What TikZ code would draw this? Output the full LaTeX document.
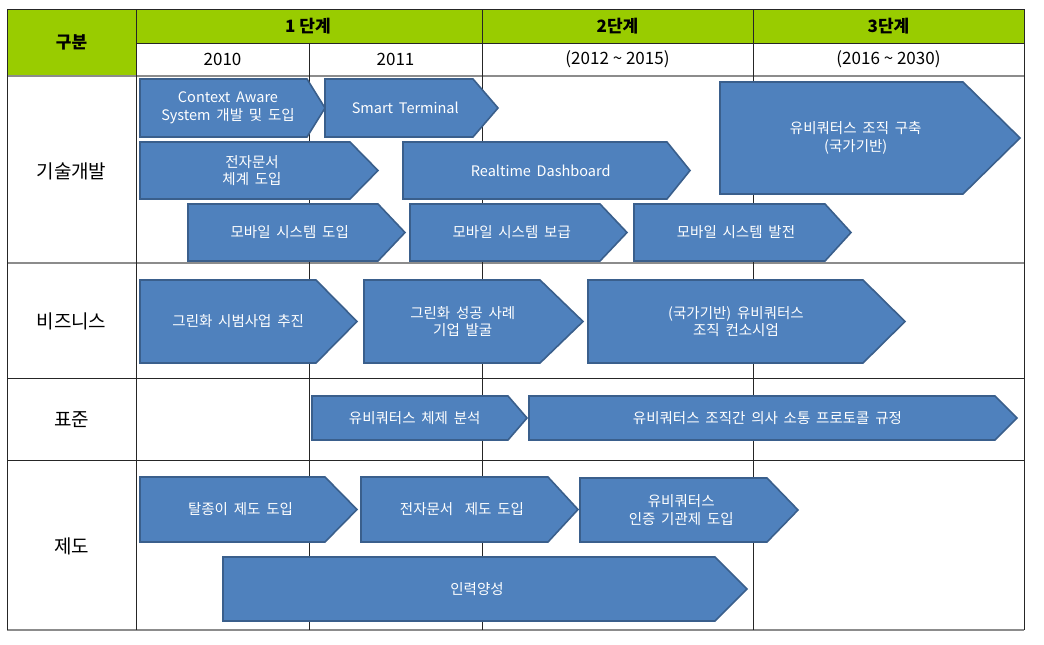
\documentclass[tikz,border=0pt]{standalone}
\usepackage{fontspec}
\setmainfont{Noto Sans CJK KR}
\usetikzlibrary{positioning}
\definecolor{barblue}{HTML}{4F81BD}
\definecolor{barline}{HTML}{3A5F8C}
\definecolor{headgreen}{HTML}{99CC00}
\definecolor{gridgray}{HTML}{8C8C8C}
\newcommand{\barfont}{\fontsize{14.5}{17.5}\selectfont\spaceskip 0.4em\relax}
\tikzset{
  bar/.style={fill=barblue, draw=barline, line width=1.6pt, line join=miter},
  bartext/.style={text=white, font=\barfont, align=center, inner sep=0pt},
  rowlabel/.style={font=\fontsize{19}{20}\selectfont},
  headlabel/.style={font=\fontsize{17}{18}\selectfont\bfseries},
  yearlabel/.style={font=\fontsize{17}{18}\selectfont},
  grid/.style={draw=black!85, line width=0.8pt},
  gridsoft/.style={draw=gridgray, line width=1.6pt}
}
\newcommand{\stagebar}[7]{%
  \draw[bar] (#2,#5) -- (#3,#5) -- (#4,{(#5+#6)/2}) -- (#3,#6) -- (#2,#6) -- cycle;
  \node[bartext] (#1) at ({(#2+(#3+#4)/2)/2},{(#5+#6)/2}) {#7};
}

\begin{document}
\begin{tikzpicture}[x=1pt,y=-1pt]
  \useasboundingbox (0,0) rectangle (1044,645);
  \fill[headgreen] (7,9) rectangle (1024,43);
  \fill[headgreen] (7,43) rectangle (136,76);
  % table lines
  \draw[grid] (7,9) -- (1024,9);
  \draw[grid] (136,43) -- (1024,43);
  \draw[gridsoft] (7,76) -- (1024,76);
  \draw[gridsoft] (7,263) -- (1024,263);
  \draw[grid] (7,378) -- (1024,378);
  \draw[grid] (7,460) -- (1024,460);
  \draw[gridsoft] (7,630) -- (1024,630);
  \foreach \gx in {7,136,482,753,1024}
    \draw[grid] (\gx,9) -- (\gx,630);
  \draw[grid] (309,43) -- (309,630);
  % header
  \node[headlabel] (gubun) at (71.5,42.5) {구분};
  \node[headlabel] (stage1) at (308,26) {1 단계};
  \node[headlabel] (stage2) at (617.5,26) {2단계};
  \node[headlabel] (stage3) at (888.5,26) {3단계};
  \node[yearlabel] (y2010) at (222.5,59.5) {2010};
  \node[yearlabel] (y2011) at (395.5,59.5) {2011};
  \node[yearlabel] (y2012) at (617.5,59.5) {(2012 \textasciitilde\ 2015)};
  \node[yearlabel] (y2016) at (888.5,59.5) {(2016 \textasciitilde\ 2030)};
  \node[rowlabel] (tech) at (71.5,171) {기술개발};
  \node[rowlabel] (biz) at (71.5,321) {비즈니스};
  \node[rowlabel] (std) at (71.5,420) {표준};
  \node[rowlabel] (law) at (71.5,546) {제도};
  % bars
  \stagebar{cas}{140}{307}{325}{79}{137}{Context Aware\\System 개발 및 도입}
  \stagebar{smart}{325}{473}{498}{79}{137}{Smart Terminal}
  \stagebar{edocsys}{140}{350}{378}{142}{199}{전자문서\\체계 도입}
  \stagebar{rtdash}{403}{667}{690}{142}{199}{Realtime Dashboard}
  \stagebar{ubiorg}{720}{963}{1020}{82}{194}{유비쿼터스 조직 구축\\(국가기반)}
  \stagebar{mobintro}{188}{378}{405}{204}{261}{모바일 시스템 도입}
  \stagebar{mobspread}{410}{600}{627}{204}{261}{모바일 시스템 보급}
  \stagebar{mobadv}{634}{825}{851}{204}{261}{모바일 시스템 발전}
  \stagebar{greenpilot}{140}{316}{357}{280}{363}{그린화 시범사업 추진}
  \stagebar{greencase}{364}{540}{583}{280}{363}{그린화 성공 사례\\기업 발굴}
  \stagebar{consort}{588}{863}{905}{280}{363}{(국가기반) 유비쿼터스\\조직 컨소시엄}
  \stagebar{ubianal}{312}{508}{527}{396}{440}{유비쿼터스 체제 분석}
  \stagebar{protocol}{529}{995}{1017}{396}{440}{유비쿼터스 조직간 의사 소통 프로토콜 규정}
  \stagebar{paperless}{140}{325}{357}{477}{542}{탈종이 제도 도입}
  \stagebar{edoclaw}{361}{548}{578}{477}{542}{전자문서 \ 제도 도입}
  \stagebar{certlaw}{580}{767}{798}{478}{542}{유비쿼터스\\인증 기관제 도입}
  \stagebar{hrdev}{223}{715}{747}{557}{621}{인력양성}
\end{tikzpicture}
\end{document}
